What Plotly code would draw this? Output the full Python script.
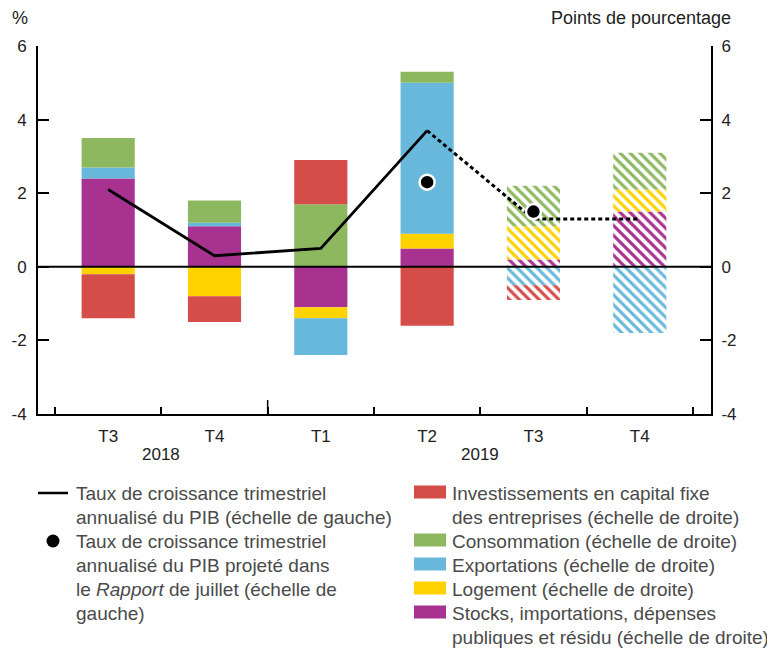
import plotly.graph_objects as go

# quarters (category positions 0..5)
quarters = ["T3", "T4", "T1", "T2", "T3", "T4"]
years = ["2018", "2019"]
projected = [False, False, False, False, True, True]

# contributions, percentage points (right scale)
stocks = [2.4, 1.1, -1.1, 0.5, 0.2, 1.5]
logement = [-0.2, -0.8, -0.3, 0.4, 0.9, 0.6]
exportations = [0.3, 0.1, -1.0, 4.1, -0.5, -1.8]
consommation = [0.8, 0.6, 1.7, 0.3, 1.1, 1.0]
investissements = [-1.2, -0.7, 1.2, -1.6, -0.4, 0.0]

# GDP growth, % (left scale)
pib = [2.1, 0.3, 0.5, 3.7, 1.3, 1.3]
pib_juillet = [None, None, None, 2.3, 1.5, None]

yticks = [-4, -2, 0, 2, 4, 6]
ytick_text = ["-4", "-2", "0", "2", "4", "6"]

RED = "#D44D48"
GREEN = "#8DB860"
BLUE = "#68B8DC"
YELLOW = "#FFD200"
PURPLE = "#A83290"

FONT = "Liberation Sans, Arial, Helvetica, sans-serif"

x = list(range(len(quarters)))
hatch = ["\\" if p else "" for p in projected]

fig = go.Figure()

# stacking order from zero outward; bars on the right-hand scale
series = [
    ("Stocks", stocks, PURPLE),
    ("Logement", logement, YELLOW),
    ("Exportations", exportations, BLUE),
    ("Consommation", consommation, GREEN),
    ("Investissements", investissements, RED),
]
for name, vals, col in series:
    fig.add_trace(go.Bar(
        x=x, y=vals, name=name, yaxis="y", width=0.5,
        marker=dict(
            color=col, line=dict(width=0),
            pattern=dict(shape=hatch, fgcolor=col, bgcolor="white",
                         size=7, solidity=0.45, fillmode="replace"),
        ),
        showlegend=False,
    ))

# GDP on the left-hand scale (overlay axis, drawn above the bars)
hist_n = projected.index(True)
fig.add_trace(go.Scatter(
    x=x[:hist_n], y=pib[:hist_n], mode="lines", yaxis="y2",
    line=dict(color="black", width=2.8), showlegend=False,
))
fig.add_trace(go.Scatter(
    x=x[hist_n - 1:], y=pib[hist_n - 1:], mode="lines", yaxis="y2",
    line=dict(color="black", width=3, dash="4px,3px"), showlegend=False,
))
fig.add_trace(go.Scatter(
    x=x, y=pib_juillet, mode="markers", yaxis="y2",
    marker=dict(color="black", size=15, line=dict(color="white", width=2.5)),
    showlegend=False,
))

# page offset (body margin) and plot area, in screen pixels
OFF = 8
W, H = 775 - OFF, 648 - OFF
L, R, T, B = 38, 711, 46, 414
def px(v):
    return (v - L) / (R - L)
def py(v):
    return (B - v) / (B - T)

shapes = [
    # zero line on top of the bars
    dict(type="line", xref="paper", yref="y", x0=0, x1=1, y0=0, y1=0,
         line=dict(color="black", width=2), layer="above"),
    # year separator tick
    dict(type="line", xref="x", yref="paper", x0=1.5, x1=1.5, y0=0, y1=py(400),
         line=dict(color="black", width=1.5), layer="above"),
    # legend: line and dot
    dict(type="line", xref="paper", yref="paper", x0=px(38), x1=px(68),
         y0=py(493), y1=py(493), line=dict(color="black", width=2.5)),
    dict(type="circle", xref="paper", yref="paper", x0=px(46.5), x1=px(59.5),
         y0=py(547.5), y1=py(534.5), fillcolor="black", line=dict(width=0)),
]

TOP = dict(size=18, color="#222222", family=FONT)
annotations = [
    dict(text="%", xref="paper", yref="paper", x=px(10), y=py(18),
         xanchor="left", yanchor="middle", showarrow=False, font=TOP),
    dict(text="Points de pourcentage", xref="paper", yref="paper", x=px(733), y=py(18),
         xanchor="right", yanchor="middle", showarrow=False, font=TOP),
    dict(text=years[0], xref="x", yref="paper", x=0.5, y=py(455),
         xanchor="center", yanchor="middle", showarrow=False),
    dict(text=years[1], xref="x", yref="paper", x=3.5, y=py(455),
         xanchor="center", yanchor="middle", showarrow=False),
]

LEG = dict(size=19, color="#4a4a4a", family=FONT)
left_lines = [
    "Taux de croissance trimestriel",
    "annualisé du PIB (échelle de gauche)",
    "Taux de croissance trimestriel",
    "annualisé du PIB projeté dans",
    "le <i>Rapport</i> de juillet (échelle de",
    "gauche)",
]
right_lines = [
    "Investissements en capital fixe",
    "des entreprises (échelle de droite)",
    "Consommation (échelle de droite)",
    "Exportations (échelle de droite)",
    "Logement (échelle de droite)",
    "Stocks, importations, dépenses",
    "publiques et résidu (échelle de droite)",
]
for i, t in enumerate(left_lines):
    annotations.append(dict(text=t, xref="paper", yref="paper", x=px(74), y=py(493 + 24 * i),
                            xanchor="left", yanchor="middle", showarrow=False, font=LEG))
for i, t in enumerate(right_lines):
    annotations.append(dict(text=t, xref="paper", yref="paper", x=px(450), y=py(493 + 24 * i),
                            xanchor="left", yanchor="middle", showarrow=False, font=LEG))

swatches = [(RED, 492), (GREEN, 540), (BLUE, 564), (YELLOW, 588), (PURPLE, 612)]
for col, yc in swatches:
    shapes.append(dict(type="rect", xref="paper", yref="paper", x0=px(414), x1=px(446),
                       y0=py(yc + 6.5), y1=py(yc - 6.5), fillcolor=col, line=dict(width=0)))

axis_font = dict(size=17, color="#222222", family=FONT)

fig.update_layout(
    template="none",
    width=W, height=H,
    margin=dict(l=L - OFF, r=775 - R, t=T - OFF, b=648 - B, autoexpand=False),
    paper_bgcolor="white", plot_bgcolor="white",
    barmode="relative", bargap=0.5,
    font=dict(family=FONT, size=17, color="#222222"),
    xaxis=dict(
        range=[-0.66, 5.67], tickvals=x, ticktext=quarters, ticks="", ticklen=0,
        ticklabelstandoff=6, tickfont=axis_font, automargin=False,
        showline=True, linecolor="black", linewidth=2, showgrid=False, zeroline=False,
        minor=dict(tickmode="linear", tick0=-0.5, dtick=1, ticks="inside",
                   ticklen=7, tickwidth=1.5, tickcolor="black", showgrid=False),
    ),
    yaxis=dict(
        range=[-4, 6], tickvals=yticks, ticktext=ytick_text, ticks="inside", ticklen=11,
        side="right", tickwidth=1.5, tickcolor="black", tickfont=axis_font,
        ticklabelstandoff=5, automargin=False,
        showline=True, linecolor="black", linewidth=2, showgrid=False, zeroline=False,
    ),
    yaxis2=dict(
        range=[-4, 6], tickvals=yticks, ticktext=ytick_text, ticks="inside", ticklen=11,
        tickwidth=1.5, tickcolor="black", tickfont=axis_font, ticklabelstandoff=6,
        overlaying="y", side="left", automargin=False,
        showline=True, linecolor="black", linewidth=2, showgrid=False, zeroline=False,
    ),
    shapes=shapes,
    annotations=annotations,
    showlegend=False,
)

fig.write_html("out.html")
